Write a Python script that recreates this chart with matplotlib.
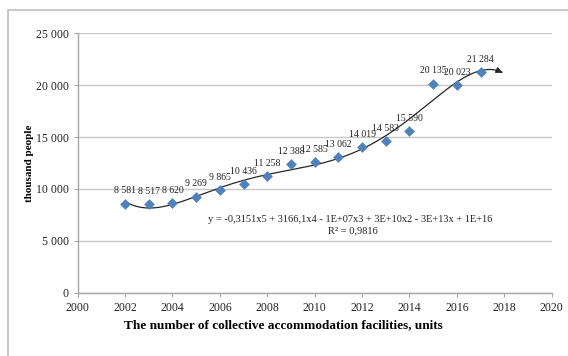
import numpy as np
import matplotlib
matplotlib.use("Agg")
import matplotlib.pyplot as plt
from matplotlib.patches import Rectangle

years = [2002, 2003, 2004, 2005, 2006, 2007, 2008, 2009, 2010, 2011, 2012, 2013, 2014, 2015, 2016, 2017]
values = [8581, 8517, 8620, 9269, 9865, 10436, 11258, 12388, 12585, 13062, 14019, 14583, 15590, 20135, 20023, 21284]
labels = ["8 581", "8 517", "8 620", "9 269", "9 865", "10 436", "11 258", "12 388", "12 585",
          "13 062", "14 019", "14 583", "15 590", "20 135", "20 023", "21 284"]
y_ticks = [0, 5000, 10000, 15000, 20000, 25000]
y_tick_labels = ["0", "5 000", "10 000", "15 000", "20 000", "25 000"]
x_ticks = [2000, 2002, 2004, 2006, 2008, 2010, 2012, 2014, 2016, 2018, 2020]
equation = "y = -0,3151x5 + 3166,1x4 - 1E+07x3 + 3E+10x2 - 3E+13x + 1E+16"
r2_text = "R² = 0,9816"

plt.rcParams['font.family'] = ['Liberation Serif', 'DejaVu Serif']

fig = plt.figure(figsize=(5.68, 3.56), dpi=100)
W, H = 568, 356
ax = fig.add_axes([77.7 / W, 1 - 292.7 / H, (551.7 - 77.7) / W, (292.7 - 33.3) / H])

# outer frame
fig.patches.append(Rectangle((8 / W, -0.1), 1.2, 1 - 10 / H + 0.1, transform=fig.transFigure,
                             fill=False, edgecolor='#BFBFBF', linewidth=1.2))

ax.set_xlim(2000, 2020)
ax.set_ylim(0, 25000)
ax.set_yticks(y_ticks)
ax.set_yticklabels(y_tick_labels)
ax.set_xticks(x_ticks)
ax.grid(axis='y', color='#C8C8C8', linewidth=1.0)
ax.set_axisbelow(True)
for s in ['top', 'right']:
    ax.spines[s].set_visible(False)
for s in ['left', 'bottom']:
    ax.spines[s].set_color('#A6A6A6')
    ax.spines[s].set_linewidth(1.0)
ax.tick_params(axis='both', colors='#A6A6A6', labelcolor='#222222', labelsize=8.5, length=3, width=0.8)

# trend line (5th order polynomial)
xs = np.array(years, dtype=float) - 2000
coef = np.polyfit(xs, np.array(values, dtype=float), 5)
xt = np.linspace(2.0, 17.9, 300)
yt = np.polyval(coef, xt)
ax.plot(xt + 2000, yt, color='#262626', linewidth=0.9, zorder=2)
ax.annotate("", xy=(xt[-1] + 2000 + 0.02, yt[-1] - 60), xytext=(xt[-4] + 2000, yt[-4]),
            arrowprops=dict(arrowstyle='-|>', color='#262626', lw=0.9, mutation_scale=9))

ax.scatter(years, values, marker='D', s=30, color='#4F81BD', zorder=3, linewidths=0)

for x, v, t in zip(years, values, labels):
    ax.annotate(t, (x, v), xytext=(0, 6), textcoords='offset points', ha='center', va='bottom',
                fontsize=7, color='#222222')

ax.text(2005.5, 7100, equation, fontsize=7.5, ha='left', va='center', color='#222222')
ax.text(2011.6, 5950, r2_text, fontsize=7.5, ha='center', va='center', color='#222222')

fig.text(30 / W, 1 - 163 / H, "thousand people", rotation=90, ha='center', va='center',
         fontsize=8, fontweight='bold')
fig.text(283 / W, 1 - 325 / H, "The number of collective accommodation facilities, units",
         ha='center', va='center', fontsize=9.5, fontweight='bold')

fig.savefig("out.png", dpi=100)
